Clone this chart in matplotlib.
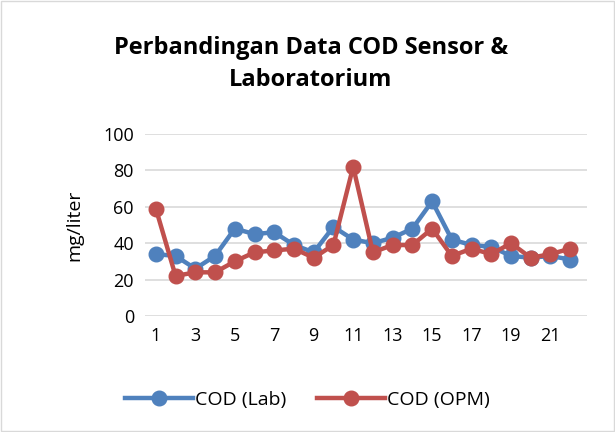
import matplotlib.pyplot as plt

# sample index and COD values (mg/liter)
samples = list(range(1, 23))
cod_lab = [34, 33, 26, 33, 48, 45, 46, 39, 35, 49, 42, 40, 43, 48, 63, 42, 39, 38, 33, 32, 33, 31]
cod_opm = [59, 22, 24, 24, 30, 35, 36, 37, 32, 39, 82, 35, 39, 39, 48, 33, 37, 34, 40, 32, 34, 37]
tick_labels = [1, 3, 5, 7, 9, 11, 13, 15, 17, 19, 21]

plt.rcParams['font.family'] = ['Open Sans', 'DejaVu Sans']

fig = plt.figure(figsize=(6.15, 4.32), dpi=100)
ax = fig.add_axes([145 / 615, 1 - 316 / 432, 442 / 615, 182 / 432])

ax.plot(samples, cod_lab, color='#4F81BD', lw=3.2, marker='o', ms=10.5, label='COD (Lab)')
ax.plot(samples, cod_opm, color='#C0504D', lw=3.2, marker='o', ms=10.5, label='COD (OPM)')

ax.set_ylim(0, 100)
ax.set_yticks(range(0, 101, 20))
ax.set_xlim(0.45, 22.85)
ax.set_xticks(tick_labels)
ax.tick_params(length=0, labelsize=13, pad=8)
ax.grid(axis='y', color='#D9D9D9', lw=1.2)
ax.set_axisbelow(True)
for s in ax.spines.values():
    s.set_visible(False)
ax.set_ylabel('mg/liter', fontsize=14, labelpad=14)

fig.text(0.505, 1 - 64 / 432, 'Perbandingan Data COD Sensor &\nLaboratorium',
         ha='center', va='center', fontsize=17, fontweight='bold', linespacing=1.45)

fig.legend(loc='center', bbox_to_anchor=(0.5, 1 - 400 / 432), ncol=2, frameon=False,
           fontsize=14, handlelength=3.5, columnspacing=1.6, handletextpad=0.1)

fig.patches.append(plt.Rectangle((0.002, 0.002), 0.996, 0.996, transform=fig.transFigure,
                                 fill=False, edgecolor='#D9D9D9', lw=1))
fig.savefig('out.png', dpi=100)
